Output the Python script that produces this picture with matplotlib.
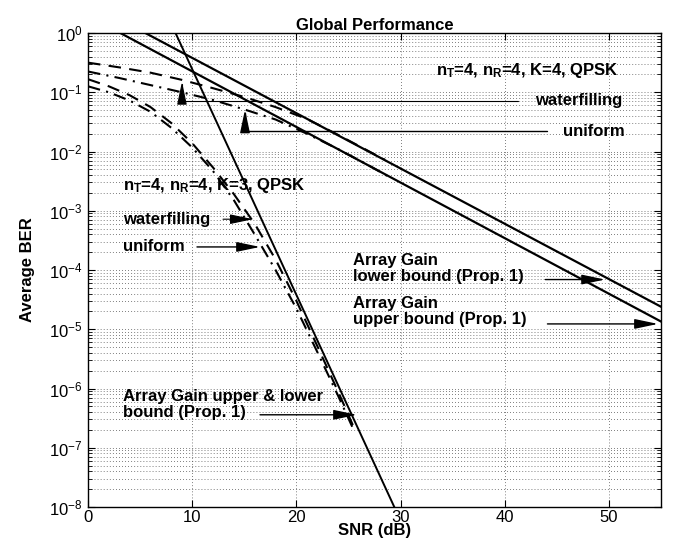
import matplotlib
matplotlib.use("Agg")
import matplotlib.pyplot as plt

# -----------------------------
# Data
# -----------------------------
# K=4 array gain bounds (straight lines in log scale)
snr_k4_upper = [5.5, 55]
ber_k4_upper = [1.0, 2.4e-5]
snr_k4_lower = [3.1, 55]
ber_k4_lower = [1.0, 1.35e-5]

# K=3 array gain bound (upper & lower coincide)
snr_k3_bound = [8.4, 29.4]
ber_k3_bound = [1.0, 1e-8]

# K=4 simulated curves
snr_k4_wf = [0, 3, 6, 9, 12, 15, 18, 21, 24, 27, 28.5]
ber_k4_wf = [0.316, 0.263, 0.214, 0.162, 0.117, 0.0832, 0.0562, 0.0355, 0.0191, 0.0100, 0.00724]
snr_k4_uni = [0, 3, 6, 9, 12, 15, 18, 21, 24, 27, 29]
ber_k4_uni = [0.224, 0.174, 0.132, 0.100, 0.0741, 0.0513, 0.0347, 0.0200, 0.0110, 0.00575, 0.00363]

# K=3 simulated curves
snr_k3 = [0, 2, 4, 6, 8, 10, 12, 14, 16, 18, 20, 22, 24, 25.5]
ber_k3_wf = [0.166, 0.126, 0.0891, 0.0562, 0.0302, 0.0138, 0.00537, 0.00191,
             6.03e-4, 1.51e-4, 3.02e-5, 5.25e-6, 8.91e-7, 2.24e-7]
ber_k3_uni = [0.126, 0.100, 0.0724, 0.0468, 0.0251, 0.0117, 0.00468, 0.00151,
              3.98e-4, 1.0e-4, 2.24e-5, 4.17e-6, 7.59e-7, 2.0e-7]

x_ticks = [0, 10, 20, 30, 40, 50]

# -----------------------------
# Style
# -----------------------------
plt.rcParams["font.family"] = ["Liberation Sans", "DejaVu Sans"]
plt.rcParams["mathtext.fontset"] = "custom"
plt.rcParams["mathtext.rm"] = "Liberation Sans"
plt.rcParams["mathtext.bf"] = "Liberation Sans:bold"
plt.rcParams["mathtext.it"] = "Liberation Sans:italic"

TXT = dict(fontsize=12, fontweight="bold", color="black")
ARROW = dict(arrowstyle="-|>,head_length=0.95,head_width=0.2", color="black",
             lw=1.0, mutation_scale=15, shrinkA=0, shrinkB=0)


def arrow(ax, start, tip, **kw):
    props = dict(ARROW)
    props.update(kw)
    ax.annotate("", xy=tip, xytext=start, arrowprops=props)


# -----------------------------
# Plot
# -----------------------------
fig = plt.figure(figsize=(6.79, 5.40), dpi=100)
ax = fig.add_axes([88 / 679, 33 / 540, 573 / 679, 474 / 540])

ax.semilogy(snr_k4_upper, ber_k4_upper, "k-", lw=1.6)
ax.semilogy(snr_k4_lower, ber_k4_lower, "k-", lw=1.6)
ax.semilogy(snr_k3_bound, ber_k3_bound, "k-", lw=1.4)

ax.semilogy(snr_k4_wf, ber_k4_wf, "k--", lw=1.5, dashes=(6, 4))
ax.semilogy(snr_k4_uni, ber_k4_uni, "k-.", lw=1.5, dashes=(6, 3, 1, 3))
ax.semilogy(snr_k3, ber_k3_wf, "k--", lw=1.5, dashes=(6, 4))
ax.semilogy(snr_k3, ber_k3_uni, "k-.", lw=1.5, dashes=(6, 3, 1, 3))

ax.set_xlim(0, 55)
ax.set_ylim(1e-8, 1)
ax.set_xticks(x_ticks)
ax.set_yticks([10.0 ** -k for k in range(0, 9)])

ax.grid(True, which="major", axis="both", color="0.2", ls=(0, (1, 3)), lw=0.55)
ax.grid(True, which="minor", axis="y", color="0.2", ls=(0, (1, 3)), lw=0.55)
ax.tick_params(which="both", direction="in", top=True, right=True, labelsize=12)
ax.tick_params(which="major", length=5, pad=4)
ax.tick_params(axis="x", which="major", pad=2.5)
ax.tick_params(which="minor", length=3)
for s in ax.spines.values():
    s.set_linewidth(1.0)

ax.set_title("Global Performance", fontsize=12, fontweight="bold", pad=1)
ax.set_xlabel("SNR (dB)", fontsize=12, fontweight="bold")
ax.xaxis.set_label_coords(0.5, -0.034)
ax.set_ylabel("Average BER", fontsize=12, fontweight="bold", labelpad=10)

# -----------------------------
# Annotations
# -----------------------------
ax.text(33.4, 0.23, r"n$_\mathbf{T}$=4, n$_\mathbf{R}$=4, K=4, QPSK", va="center", **TXT)
ax.text(42.9, 0.0724, "waterfilling", va="center", **TXT)
arrow(ax, (41.3, 0.0724), (9.02, 0.151), connectionstyle="angle,angleA=0,angleB=90,rad=0", lw=0.8)
ax.text(45.6, 0.0219, "uniform", va="center", **TXT)
arrow(ax, (44.1, 0.0219), (15.07, 0.0512), connectionstyle="angle,angleA=0,angleB=90,rad=0")

ax.text(3.36, 2.63e-3, r"n$_\mathbf{T}$=4, n$_\mathbf{R}$=4, K=3, QPSK", va="center", **TXT)
ax.text(3.36, 7.2e-4, "waterfilling", va="center", **TXT)
arrow(ax, (12.96, 7.2e-4), (15.84, 7.2e-4), lw=0.8)
ax.text(3.36, 2.45e-4, "uniform", va="center", **TXT)
arrow(ax, (10.46, 2.45e-4), (16.51, 2.45e-4))

ax.text(25.44, 1.05e-4, "Array Gain\nlower bound (Prop. 1)", va="center", linespacing=1.1, **TXT)
arrow(ax, (43.9, 6.9e-5), (49.63, 6.9e-5))
ax.text(25.44, 2.0e-5, "Array Gain\nupper bound (Prop. 1)", va="center", linespacing=1.1, **TXT)
arrow(ax, (44.1, 1.23e-5), (54.71, 1.23e-5))

ax.text(3.36, 5.4e-7, "Array Gain upper & lower\nbound (Prop. 1)", va="center", linespacing=1.1, **TXT)
arrow(ax, (16.51, 3.6e-7), (25.82, 3.6e-7))

fig.savefig("out.png", dpi=100)
